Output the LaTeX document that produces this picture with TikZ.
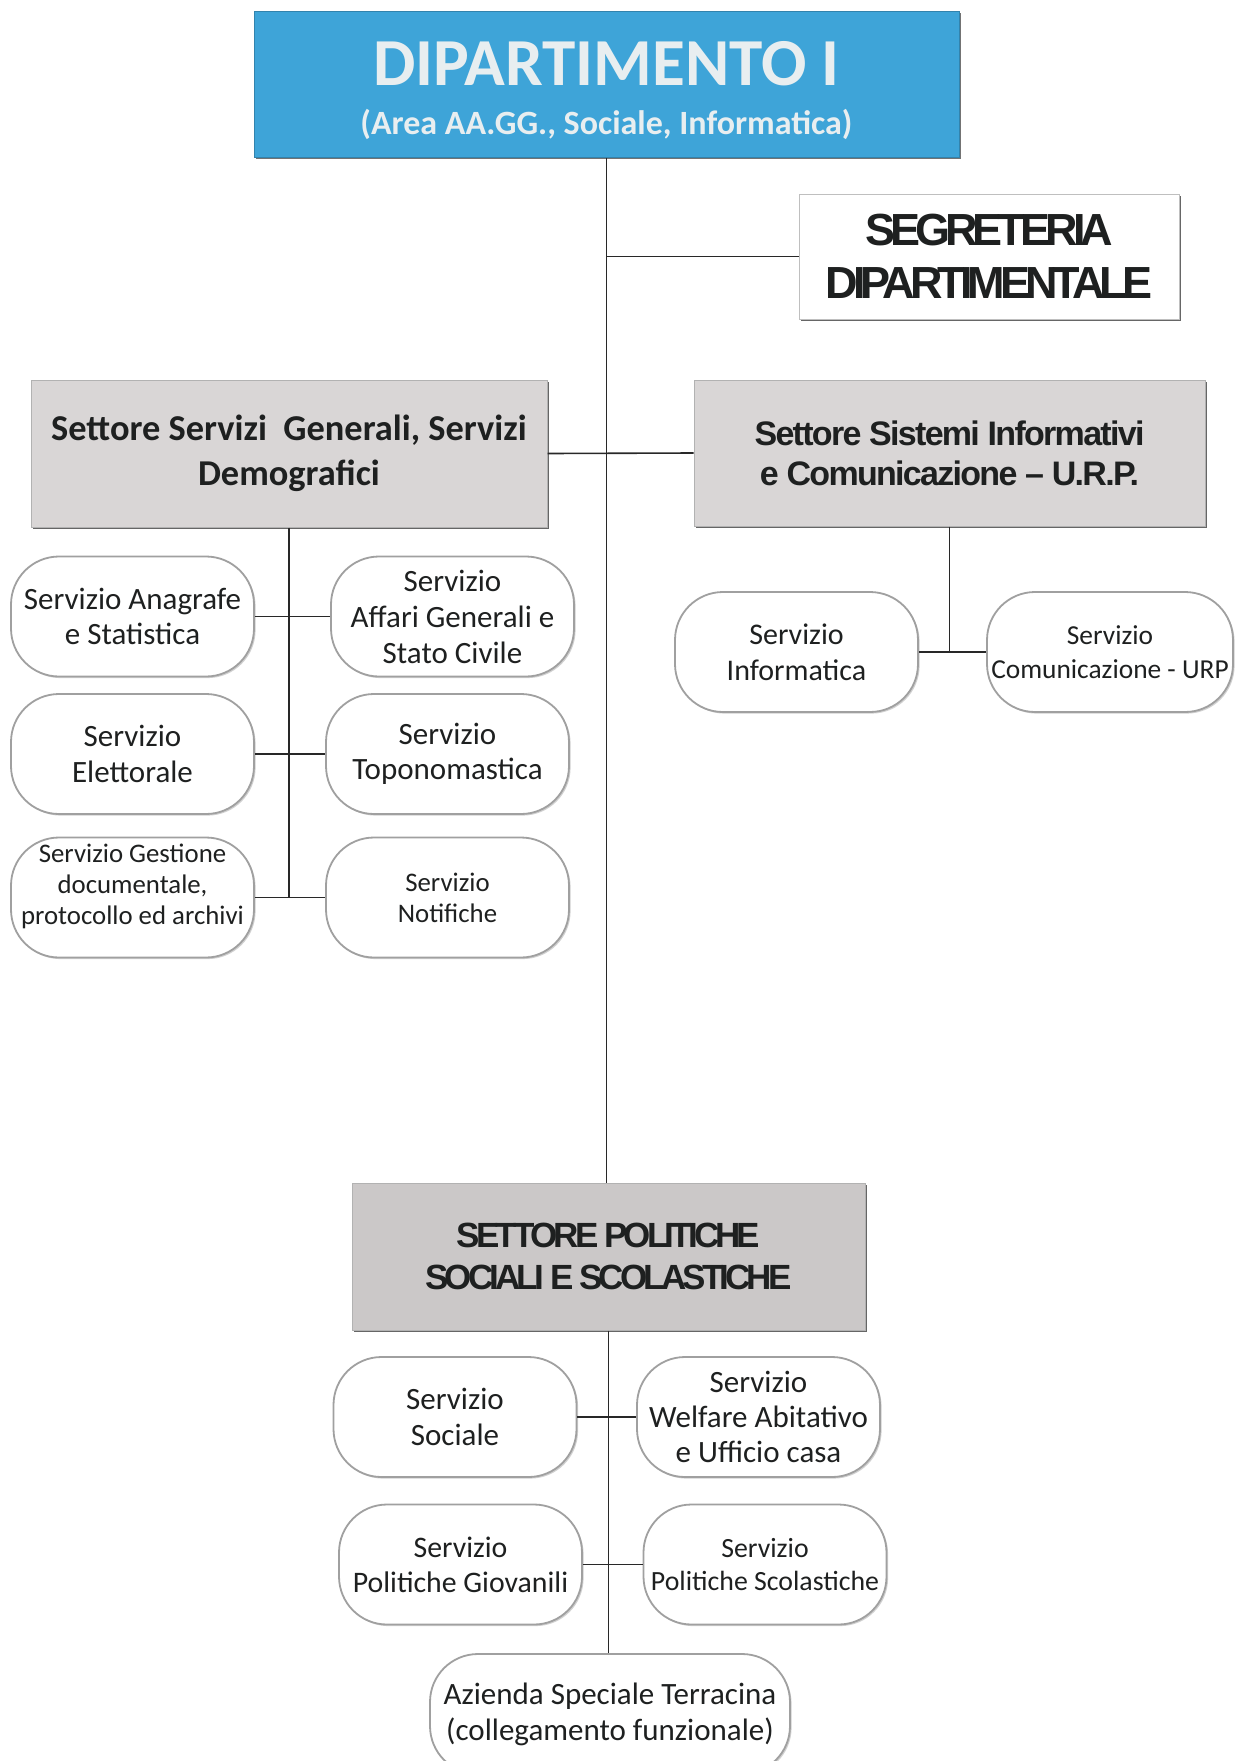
\documentclass[tikz,border=0pt]{standalone}
\usepackage{fontspec}
\setmainfont{Carlito}
\newfontfamily\arialc[LetterSpace=-11]{Liberation Sans}
\newfontfamily\arialr[LetterSpace=-5]{Liberation Sans}
\usetikzlibrary{shadows}
\definecolor{dipblue}{RGB}{62,164,216}
\definecolor{dipfg}{RGB}{232,238,240}
\definecolor{boxgray}{RGB}{217,214,214}
\definecolor{boxgrayd}{RGB}{203,200,200}
\definecolor{linec}{RGB}{40,40,40}
\definecolor{pillline}{RGB}{160,160,160}
\definecolor{txt}{RGB}{30,32,32}
\begin{document}
\begin{tikzpicture}[x=0.5pt,y=-0.5pt,
  conn/.style={draw=linec, line width=0.8pt},
  pill/.style={draw=pillline, line width=0.9pt, fill=white, rounded corners=24pt,
    minimum width=121.5pt, minimum height=60pt, align=center, inner sep=0pt, text=txt,
    drop shadow={shadow xshift=0.8pt, shadow yshift=-0.8pt, fill=black!30, opacity=0.6}},
  sbox/.style={fill=boxgray, draw=black!30, line width=0.5pt, align=center, inner sep=0pt, text=txt,
    drop shadow={shadow xshift=1.2pt, shadow yshift=-1.2pt, fill=black!60, opacity=1}},
  pf/.style={font={\fontsize{15.5}{17.7}\selectfont}},
  ps/.style={font={\fontsize{13.4}{15.5}\selectfont}},
]
\useasboundingbox (0,0) rectangle (1240,1761);
\fill[white] (0,0) rectangle (1240,1761);

% top box
\node[fill=dipblue, draw=dipblue!80!black, line width=0.5pt, minimum width=352.5pt, minimum height=73pt,
  drop shadow={shadow xshift=1.2pt, shadow yshift=-1.2pt, fill=black!55, opacity=1}] (dip) at (606.5,84) {};
\node[text=dipfg, font={\fontsize{33.6}{36}\selectfont\bfseries}, inner sep=0pt] (diptitle) at (606.5,64) {DIPARTIMENTO I};
\node[text=dipfg, font={\fontsize{17}{20}\selectfont\bfseries}, inner sep=0pt] (dipsub) at (606.5,124) {(Area AA.GG., Sociale, Informatica)};

% segreteria
\node[fill=white, draw=black!25, line width=0.5pt, minimum width=190pt, minimum height=62.5pt, align=center, inner sep=0pt, text=txt,
  font={\fontsize{22.5}{26.5}\selectfont\arialc\bfseries},
  drop shadow={shadow xshift=1.2pt, shadow yshift=-1.2pt, fill=black!60, opacity=1}] (seg) at (989,256.5) {SEGRETERIA\\DIPARTIMENTALE};

% settori
\node[sbox, minimum width=258pt, minimum height=73.5pt, font={\fontsize{18.2}{22.5}\selectfont\bfseries}] (sL) at (289,453.5) {Settore Servizi\ \ Generali, Servizi\\Demografici};
\node[sbox, minimum width=255.5pt, minimum height=73pt, font={\fontsize{17}{20}\selectfont\arialr\bfseries}] (sR) at (949.5,453) {Settore Sistemi Informativi\\e Comunicazione – U.R.P.};
\node[sbox, fill=boxgrayd, minimum width=256.5pt, minimum height=73.5pt, font={\fontsize{17.5}{20.75}\selectfont\arialc\bfseries}] (sB) at (608.5,1256.5) {SETTORE POLITICHE\\SOCIALI E SCOLASTICHE};

% pills left settore
\node[pill, pf] (p1) at (132.5,616.5) {Servizio Anagrafe\\e Statistica};
\node[pill, pf, font={\fontsize{15.5}{18}\selectfont}] (p2) at (452.5,616.5) {Servizio\\Affari Generali e\\Stato Civile};
\node[pill, pf] (p3) at (132.5,754) {Servizio\\Elettorale};
\node[pill, pf] (p4) at (447.5,754) {Servizio\\Toponomastica};
\node[pill, ps, text depth=13pt] (p5) at (132.5,897.5) {Servizio Gestione\\documentale,\\protocollo ed archivi};
\node[pill, ps] (p6) at (447.5,897.5) {Servizio\\Notifiche};

% pills right settore
\node[pill, font={\fontsize{15}{18}\selectfont}] (p7) at (796.5,652) {Servizio\\Informatica};
\node[pill, minimum width=123pt, font={\fontsize{13.7}{17}\selectfont}] (p8) at (1110,652) {Servizio\\Comunicazione - URP};

% pills bottom settore
\node[pill, pf] (p9) at (455,1417) {Servizio\\Sociale};
\node[pill, pf] (p10) at (758.5,1417) {Servizio\\Welfare Abitativo\\e Ufficio casa};
\node[pill, font={\fontsize{14.9}{17.5}\selectfont}] (p11) at (460.5,1564.5) {Servizio\\Politiche Giovanili};
\node[pill, font={\fontsize{13.9}{16.5}\selectfont}] (p12) at (765,1564.5) {Servizio\\Politiche Scolastiche};
\node[pill, minimum width=180pt, font={\fontsize{15.5}{18}\selectfont}] (p13) at (610,1714) {Azienda Speciale Terracina\\(collegamento funzionale)};

% connectors
\draw[conn] (dip.south) -- (dip.south |- sB.north);
\draw[conn] (dip.south |- seg.west) -- (seg.west);
\draw[conn] (sL.east) -- (sR.west);
\draw[conn] (sL.south) -- (sL.south |- p5.east);
\draw[conn] (p1.east) -- (p2.west);
\draw[conn] (p3.east) -- (p4.west);
\draw[conn] (p5.east) -- (p6.west);
\draw[conn] (sR.south) -- (sR.south |- p7.east);
\draw[conn] (p7.east) -- (p8.west);
\draw[conn] (sB.south) -- (sB.south |- p13.north);
\draw[conn] (p9.east) -- (p10.west);
\draw[conn] (p11.east) -- (p12.west);
\end{tikzpicture}
\end{document}
